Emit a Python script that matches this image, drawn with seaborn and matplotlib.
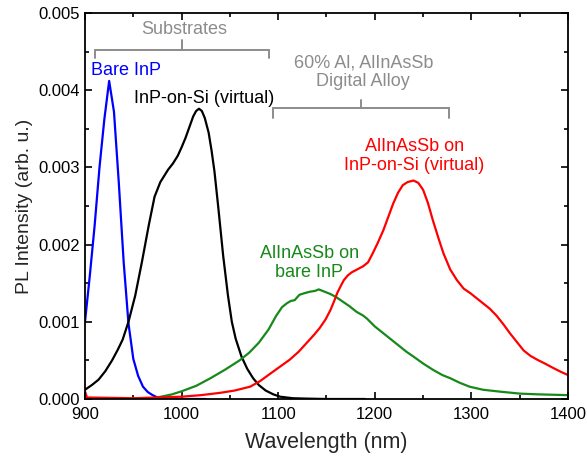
import numpy as np
import pandas as pd
import seaborn as sns
import matplotlib
matplotlib.use("Agg")
import matplotlib.pyplot as plt
from matplotlib.ticker import MultipleLocator, FormatStrFormatter

# ---- data ----
wl_bare = [900, 905, 910, 915, 920, 925, 930, 935, 940, 945, 950, 955, 960, 965,
           970, 975, 985, 1000, 1025]
pl_bare = [0.00100, 0.00160, 0.00225, 0.00300, 0.00362, 0.00412, 0.00372, 0.00280,
           0.00178, 0.00098, 0.00052, 0.00030, 0.00016, 0.00009, 0.00005, 0.00002,
           0.000005, 0.0, 0.0]

wl_si = [900, 907, 914, 921, 928, 934, 939, 945, 952, 959, 966, 972, 978, 986, 991,
         996, 1000, 1004, 1008, 1012, 1015, 1018, 1021, 1024, 1028, 1031, 1034, 1038,
         1043, 1048, 1052, 1056, 1062, 1068, 1074, 1080, 1087, 1095, 1102, 1115, 1130,
         1150, 1190]
pl_si = [0.00012, 0.00018, 0.00025, 0.00036, 0.00050, 0.00064, 0.00077, 0.00100,
         0.00134, 0.00178, 0.00225, 0.00262, 0.00281, 0.00297, 0.00305, 0.00315,
         0.00326, 0.00338, 0.00352, 0.00366, 0.00373, 0.00376, 0.00373, 0.00364,
         0.00345, 0.00322, 0.00295, 0.00248, 0.00186, 0.00134, 0.00100, 0.00078,
         0.00055, 0.00039, 0.00027, 0.00018, 0.00011, 0.00006, 0.00003, 0.00001,
         0.000005, 0.0, 0.0]

wl_alloy_inp = [975, 990, 1000, 1015, 1030, 1045, 1060, 1070, 1080, 1090, 1098, 1104,
                1109, 1113, 1117, 1122, 1127, 1133, 1138, 1142, 1148, 1154, 1160, 1167,
                1174, 1181, 1188, 1192, 1200, 1209, 1218, 1226, 1233, 1240, 1250, 1260,
                1270, 1278, 1288, 1298, 1312, 1330, 1350, 1370, 1400]
pl_alloy_inp = [0.00002, 0.00006, 0.00010, 0.00017, 0.00027, 0.00038, 0.00050, 0.00060,
                0.00073, 0.00090, 0.00108, 0.00119, 0.00124, 0.00127, 0.00128, 0.00135,
                0.00137, 0.00139, 0.00140, 0.00142, 0.00139, 0.00136, 0.00132, 0.00126,
                0.00120, 0.00113, 0.00108, 0.00104, 0.00094, 0.00085, 0.00076, 0.00068,
                0.00061, 0.00055, 0.00046, 0.00038, 0.00031, 0.00027, 0.00021, 0.00016,
                0.00012, 0.000095, 0.00007, 0.00006, 0.00005]

wl_alloy_si = [900, 902, 950, 1000, 1020, 1040, 1055, 1071, 1081, 1092, 1102, 1112,
               1121, 1129, 1137, 1143, 1149, 1154, 1158, 1161, 1165, 1168, 1172, 1176,
               1182, 1188, 1193, 1198, 1203, 1209, 1214, 1219, 1224, 1229, 1234, 1240,
               1245, 1250, 1255, 1260, 1266, 1271, 1278, 1285, 1292, 1299, 1306, 1312,
               1319, 1326, 1333, 1340, 1347, 1354, 1361, 1368, 1376, 1385, 1393, 1400]
pl_alloy_si = [0.00010, 0.00002, 0.00001, 0.00003, 0.00005, 0.00008, 0.00011, 0.00016,
               0.00023, 0.00033, 0.00042, 0.00051, 0.00061, 0.00072, 0.00083, 0.00092,
               0.00103, 0.00115, 0.00127, 0.00137, 0.00147, 0.00154, 0.00160, 0.00164,
               0.00168, 0.00172, 0.00177, 0.00189, 0.00202, 0.00219, 0.00236, 0.00253,
               0.00267, 0.00277, 0.00281, 0.00283, 0.00280, 0.00271, 0.00254, 0.00232,
               0.00208, 0.00189, 0.00168, 0.00154, 0.00143, 0.00137, 0.00130, 0.00124,
               0.00117, 0.00108, 0.00097, 0.00085, 0.00074, 0.00063, 0.00056, 0.00051,
               0.00046, 0.00040, 0.00035, 0.00031]

series_names = ["Bare InP", "InP-on-Si (virtual)", "AlInAsSb on\nbare InP",
                "AlInAsSb on\nInP-on-Si (virtual)"]
series_colors = ["#0000FF", "#000000", "#17891A", "#FF0000"]

x_ticks = [900, 1000, 1100, 1200, 1300, 1400]
y_ticks = [0.000, 0.001, 0.002, 0.003, 0.004, 0.005]

# ---- build long table ----
frames = []
for name, wl, pl in zip(series_names,
                        [wl_bare, wl_si, wl_alloy_inp, wl_alloy_si],
                        [pl_bare, pl_si, pl_alloy_inp, pl_alloy_si]):
    frames.append(pd.DataFrame({"wl": wl, "pl": pl, "series": name}))
df = pd.concat(frames, ignore_index=True)

sns.set_theme(style="ticks")
plt.rcParams["font.family"] = ["Liberation Sans", "DejaVu Sans"]

fig = plt.figure(figsize=(5.87, 4.59), dpi=100)
ax = fig.add_axes([0.1448, 0.1307, 0.8228, 0.841])

sns.lineplot(data=df, x="wl", y="pl", hue="series", hue_order=series_names,
             palette=dict(zip(series_names, series_colors)), sort=False,
             estimator=None, linewidth=1.6, legend=False, ax=ax)
for ln in ax.get_lines():
    ln.set_solid_joinstyle("round")

ax.set_xlim(900, 1400)
ax.set_ylim(0, 0.005)
ax.set_xticks(x_ticks)
ax.set_yticks(y_ticks)
ax.xaxis.set_minor_locator(MultipleLocator(50))
ax.yaxis.set_minor_locator(MultipleLocator(0.0005))
ax.yaxis.set_major_formatter(FormatStrFormatter("%.3f"))
ax.tick_params(which="both", direction="in", top=True, right=True, width=1.2,
               labelsize=12, colors="#000000")
ax.tick_params(which="major", length=5)
ax.tick_params(which="minor", length=3)
ax.tick_params(axis="x", pad=6)
for s in ax.spines.values():
    s.set_linewidth(1.3)
    s.set_color("#000000")

ax.set_xlabel("Wavelength (nm)", fontsize=15.5, labelpad=7)
ax.set_ylabel("PL Intensity (arb. u.)", fontsize=14, labelpad=4)

# ---- annotations ----
gray = "#8C8C8C"
fs = 13
ax.text(1003, 0.00478, "Substrates", color=gray, fontsize=fs, ha="center", va="center")
ax.plot([910.4, 910.4, 1090.5, 1090.5], [0.00442, 0.00452, 0.00452, 0.00442],
        color=gray, lw=1.4, solid_joinstyle="miter")
ax.plot([1000.4, 1000.4], [0.00452, 0.00465], color=gray, lw=1.4)

ax.text(1188, 0.00423, "60% Al, AlInAsSb\nDigital Alloy", color=gray, fontsize=fs,
        ha="center", va="center", linespacing=1.15)
ax.plot([1094.6, 1094.6, 1276.8, 1276.8], [0.00364, 0.00377, 0.00377, 0.00364],
        color=gray, lw=1.4, solid_joinstyle="miter")
ax.plot([1185.7, 1185.7], [0.00377, 0.00387], color=gray, lw=1.4)

ax.text(942.5, 0.00425, "Bare InP", color=series_colors[0], fontsize=fs,
        ha="center", va="center")
ax.text(1023, 0.00389, "InP-on-Si (virtual)", color=series_colors[1], fontsize=fs,
        ha="center", va="center")
ax.text(1241, 0.00315, "AlInAsSb on\nInP-on-Si (virtual)", color=series_colors[3],
        fontsize=fs, ha="center", va="center", linespacing=1.15)
ax.text(1132, 0.00176, "AlInAsSb on\nbare InP", color=series_colors[2],
        fontsize=fs, ha="center", va="center", linespacing=1.15)

fig.savefig("out.png", dpi=100)
